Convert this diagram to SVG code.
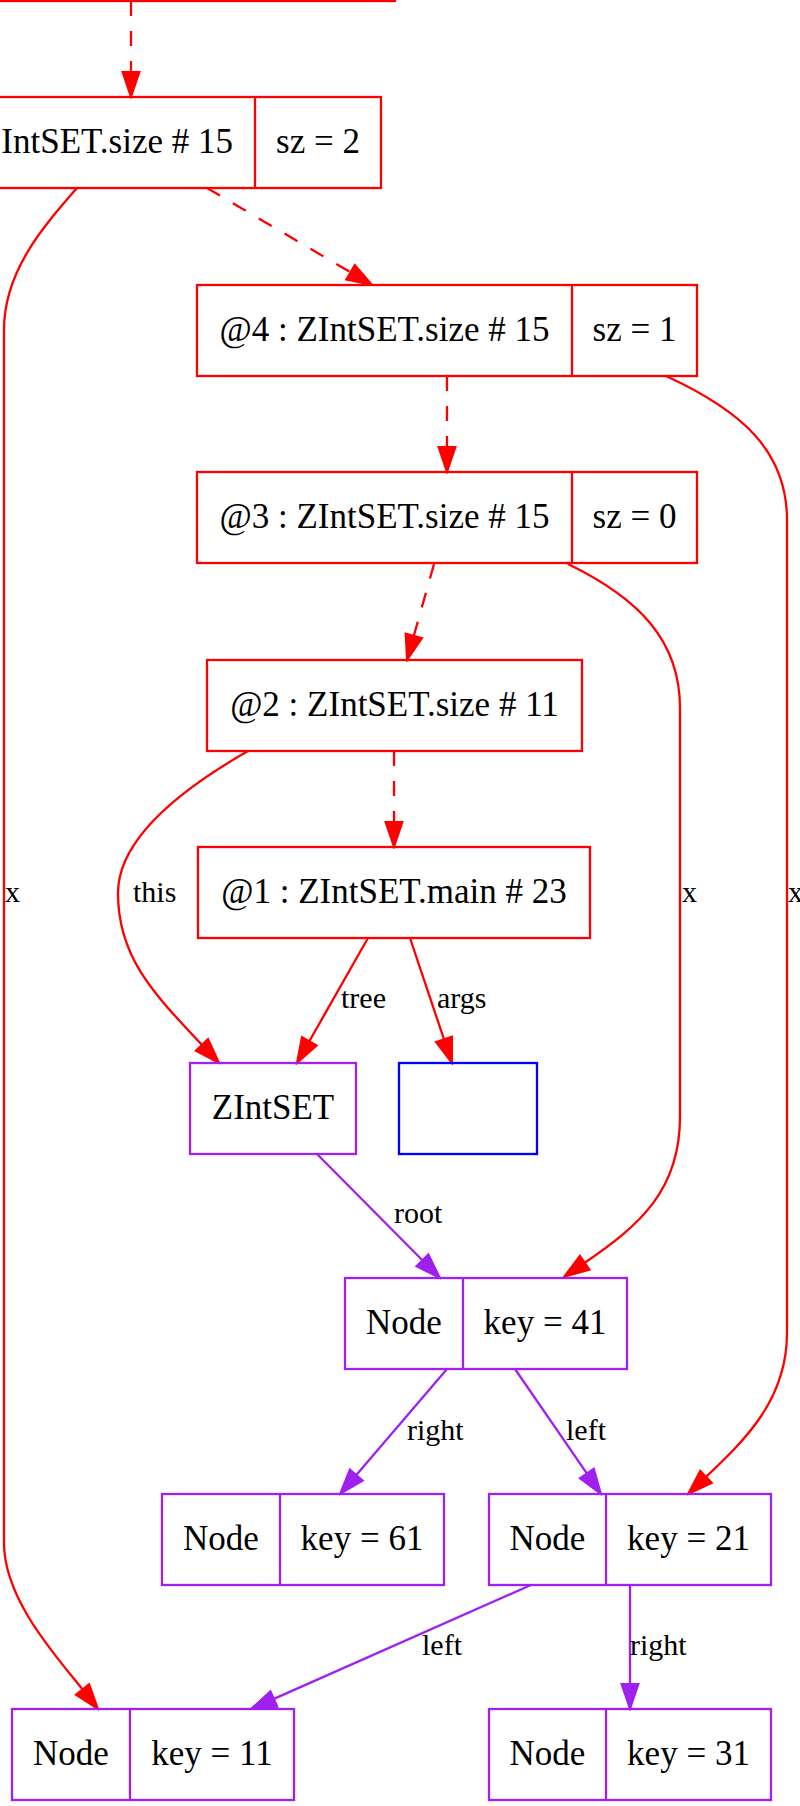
<svg xmlns="http://www.w3.org/2000/svg" width="800" height="1806" viewBox="0 0 800 1806">
<style>
.bg{fill:#fff}
.n rect,.n line{fill:none;stroke-width:2.3}
.r rect,.r line{stroke:#ff0000}
.p rect,.p line{stroke:#a020f0}
.b rect{stroke:#0000ff}
.t{font-family:"Liberation Serif","Times New Roman",serif;font-size:35px;fill:#000;text-anchor:middle}
.l{font-family:"Liberation Serif","Times New Roman",serif;font-size:30px;fill:#000;text-anchor:start}
.e{fill:none;stroke-width:2.3}
.er{stroke:#ff0000}
.ep{stroke:#a020f0}
.d{stroke-dasharray:15,15}
.er.a{marker-end:url(#ar)}
.ep.a{marker-end:url(#ap)}
</style>
<defs>
<marker id="ar" markerUnits="userSpaceOnUse" viewBox="-2 -11 29 22" markerWidth="29" markerHeight="22" refX="0" refY="0" orient="auto">
<polygon points="0,-8.5 25,0 0,8.5" fill="#ff0000" stroke="#ff0000" stroke-width="2"/>
</marker>
<marker id="ap" markerUnits="userSpaceOnUse" viewBox="-2 -11 29 22" markerWidth="29" markerHeight="22" refX="0" refY="0" orient="auto">
<polygon points="0,-8.5 25,0 0,8.5" fill="#a020f0" stroke="#a020f0" stroke-width="2"/>
</marker>
</defs>
<rect class="bg" x="0" y="0" width="800" height="1806"/>

<g id="edges">
<path class="e er a d" d="M131,1 L131,72"/>
<path class="e er a d" d="M207,188 L350.5,272.3"/>
<path class="e er a d" d="M447,376 L447,447"/>
<path class="e er a d" d="M434,564 L413.8,635.9"/>
<path class="e er a d" d="M394,751 L394,822"/>
<path class="e er a" d="M368,938 L309.3,1041.3"/>
<text class="l" x="341" y="1008">tree</text>
<path class="e er a" d="M410,938 L444,1039.3"/>
<text class="l" x="437" y="1008">args</text>
<path class="e er a" d="M248,751 C180,790 118,840 118,893 C118,955 150,990 201.9,1044.8"/>
<text class="l" x="133" y="902">this</text>
<path class="e ep a" d="M317,1154 L422.4,1260.3"/>
<text class="l" x="394" y="1223">root</text>
<path class="e ep a" d="M447,1369 L356.3,1475"/>
<text class="l" x="407" y="1440">right</text>
<path class="e ep a" d="M515,1369 L586.8,1473.4"/>
<text class="l" x="566" y="1440">left</text>
<path class="e ep a" d="M531,1585 L273.9,1698.9"/>
<text class="l" x="422" y="1655">left</text>
<path class="e ep a" d="M630,1585 L630,1684"/>
<text class="l" x="630" y="1655">right</text>
<path class="e er a" d="M77,188 C45,225 4,270 4,330 L4,1543 C4,1600 57.7,1658 82.5,1689.4"/>
<text class="l" x="5" y="902">x</text>
<path class="e er a" d="M568,564 C638,598 680,640 680,708 L680,1117 C680,1190 640,1225 584.7,1262.7"/>
<text class="l" x="682" y="902">x</text>
<path class="e er a" d="M666,376 C740,410 787,450 787,520 L787,1333 C787,1400 744.5,1440.3 706.1,1476.8"/>
<text class="l" x="788" y="902">x</text>
</g>

<g id="frame_top" class="n r">
<rect x="-100" y="-90" width="495" height="91"/>
</g>
<g id="frame5" class="n r">
<rect x="-150" y="97" width="531" height="91"/>
<line x1="255" y1="97" x2="255" y2="188"/>
<text class="t" x="233" y="153" style="text-anchor:end">IntSET.size # 15</text>
<text class="t" x="318" y="153">sz = 2</text>
</g>
<g id="frame4" class="n r">
<rect x="197" y="285" width="500" height="91"/>
<line x1="572" y1="285" x2="572" y2="376"/>
<text class="t" x="384.5" y="341">@4 : ZIntSET.size # 15</text>
<text class="t" x="634.5" y="341">sz = 1</text>
</g>
<g id="frame3" class="n r">
<rect x="197" y="472" width="500" height="91"/>
<line x1="572" y1="472" x2="572" y2="563"/>
<text class="t" x="384.5" y="528">@3 : ZIntSET.size # 15</text>
<text class="t" x="634.5" y="528">sz = 0</text>
</g>
<g id="frame2" class="n r">
<rect x="207" y="660" width="375" height="91"/>
<text class="t" x="394.5" y="716">@2 : ZIntSET.size # 11</text>
</g>
<g id="frame1" class="n r">
<rect x="198" y="847" width="392" height="91"/>
<text class="t" x="394" y="903">@1 : ZIntSET.main # 23</text>
</g>
<g id="zintset" class="n p">
<rect x="190" y="1063" width="166" height="91"/>
<text class="t" x="273" y="1119">ZIntSET</text>
</g>
<g id="args" class="n b">
<rect x="399" y="1063" width="138" height="91"/>
</g>
<g id="node41" class="n p">
<rect x="345" y="1278" width="282" height="91"/>
<line x1="463" y1="1278" x2="463" y2="1369"/>
<text class="t" x="404" y="1334">Node</text>
<text class="t" x="545" y="1334">key = 41</text>
</g>
<g id="node61" class="n p">
<rect x="162" y="1494" width="282" height="91"/>
<line x1="280" y1="1494" x2="280" y2="1585"/>
<text class="t" x="221" y="1550">Node</text>
<text class="t" x="362" y="1550">key = 61</text>
</g>
<g id="node21" class="n p">
<rect x="489" y="1494" width="282" height="91"/>
<line x1="606" y1="1494" x2="606" y2="1585"/>
<text class="t" x="547.5" y="1550">Node</text>
<text class="t" x="688.5" y="1550">key = 21</text>
</g>
<g id="node11" class="n p">
<rect x="12" y="1709" width="282" height="91"/>
<line x1="130" y1="1709" x2="130" y2="1800"/>
<text class="t" x="71" y="1765">Node</text>
<text class="t" x="212" y="1765">key = 11</text>
</g>
<g id="node31" class="n p">
<rect x="489" y="1709" width="282" height="91"/>
<line x1="606" y1="1709" x2="606" y2="1800"/>
<text class="t" x="547.5" y="1765">Node</text>
<text class="t" x="688.5" y="1765">key = 31</text>
</g>
</svg>
